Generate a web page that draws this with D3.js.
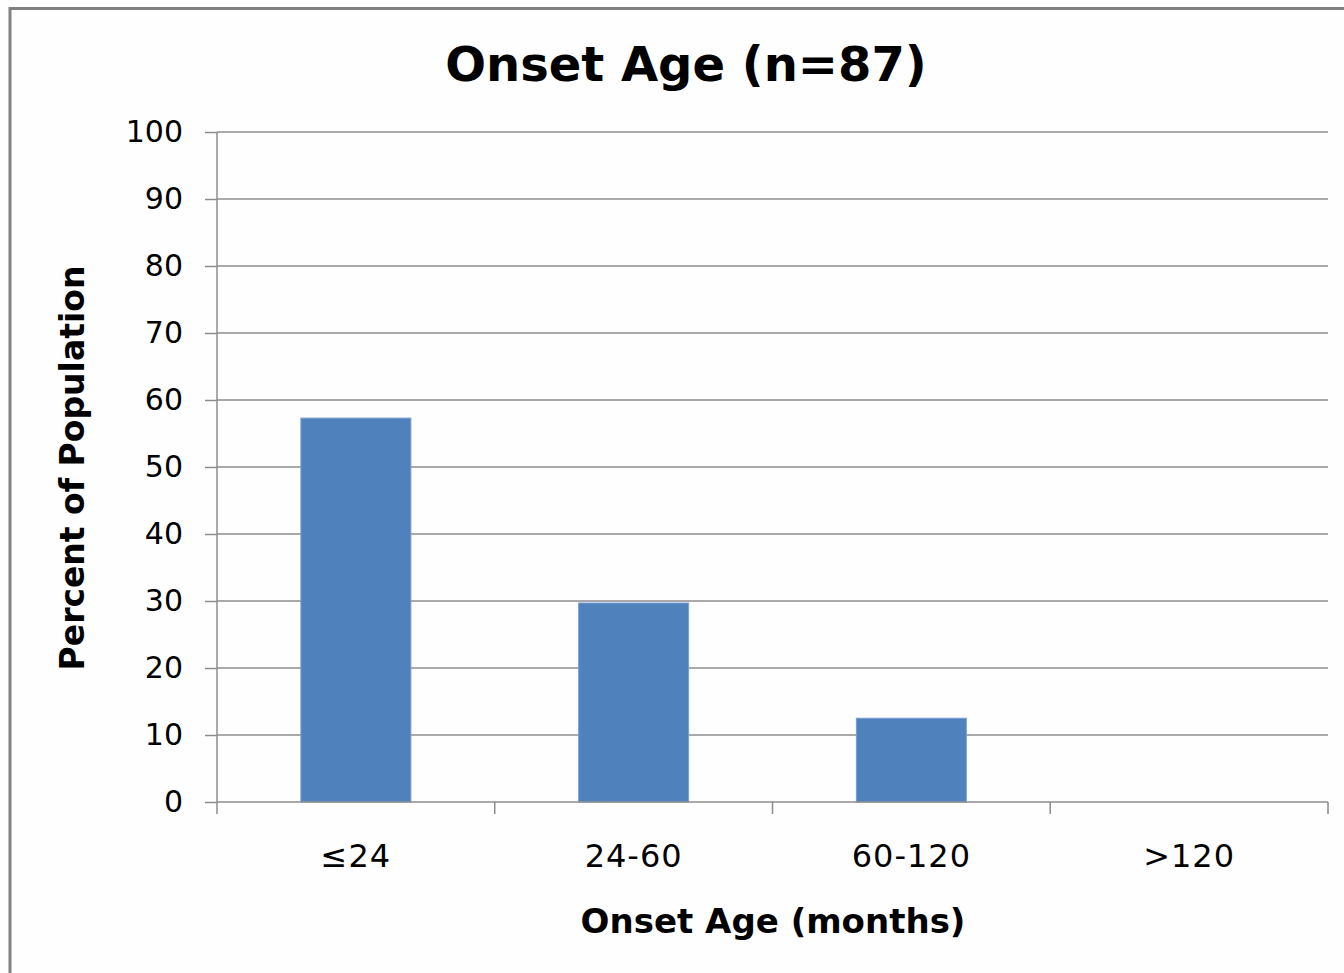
<!DOCTYPE html>
<html>
<head>
<meta charset="utf-8">
<script src="https://cdn.jsdelivr.net/npm/d3@7"></script>
<style>
  html, body { margin: 0; padding: 0; background: #ffffff; }
  svg { display: block; }
</style>
</head>
<body>
<svg id="chart" width="1344" height="973"></svg>
<script>
const categories = ["≤24", "24-60", "60-120", ">120"];
const values = [57.3, 29.7, 12.5, 0];
const yTicks = [0, 10, 20, 30, 40, 50, 60, 70, 80, 90, 100];
const titleText = "Onset Age (n=87)";
const xTitle = "Onset Age (months)";
const yTitle = "Percent of Population";

const svg = d3.select("#chart");
const W = 1344, H = 973;
const font = "'DejaVu Sans', Verdana, sans-serif";
const gridColor = "#8c8c8c";

svg.append("rect").attr("x", 0).attr("y", 0).attr("width", W).attr("height", H).attr("fill", "#fefefe");
// outer border (top & left visible)
svg.append("line").attr("x1", 10).attr("x2", W).attr("y1", 8.5).attr("y2", 8.5)
  .attr("stroke", "#808080").attr("stroke-width", 3);
svg.append("line").attr("x1", 10).attr("x2", 10).attr("y1", 7).attr("y2", H)
  .attr("stroke", "#808080").attr("stroke-width", 3);

const pLeft = 217, pRight = 1328, pTop = 132, pBottom = 802;
const x = d3.scaleBand().domain(categories).range([pLeft, pRight]).paddingInner(0.604).paddingOuter(0.302);
const y = d3.scaleLinear().domain([0, 100]).range([pBottom, pTop]);

// gridlines + y ticks
const yAxis = d3.axisLeft(y).tickValues(yTicks).tickSize(12).tickPadding(22).tickFormat(d3.format("d"));
const gy = svg.append("g").attr("transform", `translate(${pLeft},0)`).call(yAxis);
gy.select(".domain").attr("stroke", gridColor).attr("stroke-width", 1.5).attr("d", `M0,${pTop}V${pBottom}`);
gy.selectAll(".tick line").attr("stroke", gridColor).attr("stroke-width", 1.5);
gy.selectAll(".tick text").attr("font-family", font).attr("font-size", 30).attr("fill", "#000");

svg.append("g").selectAll("line").data(yTicks.filter(d => d > 0)).join("line")
  .attr("x1", pLeft).attr("x2", pRight)
  .attr("y1", d => y(d)).attr("y2", d => y(d))
  .attr("stroke", gridColor).attr("stroke-width", 1.5);

// bars
svg.append("g").selectAll("rect").data(values).join("rect")
  .attr("x", (d, i) => x(categories[i]))
  .attr("y", d => y(d))
  .attr("width", x.bandwidth())
  .attr("height", d => y(0) - y(d))
  .attr("fill", "#4f81bd")
  .attr("stroke", d => d > 0 ? "#7a9fd0" : "none")
  .attr("stroke-width", 1);

// x axis
const boundaries = d3.range(categories.length + 1).map(i => pLeft + i * (pRight - pLeft) / categories.length);
const gx = svg.append("g");
gx.append("line").attr("x1", pLeft).attr("x2", pRight).attr("y1", pBottom).attr("y2", pBottom)
  .attr("stroke", gridColor).attr("stroke-width", 1.5);
gx.selectAll("line.t").data(boundaries).join("line").attr("class", "t")
  .attr("x1", d => d).attr("x2", d => d).attr("y1", pBottom).attr("y2", pBottom + 12)
  .attr("stroke", gridColor).attr("stroke-width", 1.5);
gx.selectAll("text").data(categories).join("text")
  .attr("x", d => x(d) + x.bandwidth() / 2)
  .attr("y", 867)
  .attr("text-anchor", "middle")
  .attr("font-family", font).attr("font-size", 32).attr("letter-spacing", 1).attr("fill", "#000")
  .text(d => d);

// titles
svg.append("text").attr("x", 686).attr("y", 81).attr("text-anchor", "middle")
  .attr("font-family", font).attr("font-weight", "bold").attr("font-size", 48).attr("fill", "#000")
  .text(titleText);
svg.append("text").attr("x", 773).attr("y", 933).attr("text-anchor", "middle")
  .attr("font-family", font).attr("font-weight", "bold").attr("font-size", 34).attr("fill", "#000")
  .text(xTitle);
svg.append("text").attr("transform", "translate(84,468) rotate(-90)").attr("text-anchor", "middle")
  .attr("font-family", font).attr("font-weight", "bold").attr("font-size", 33).attr("fill", "#000")
  .text(yTitle);
</script>
</body>
</html>
